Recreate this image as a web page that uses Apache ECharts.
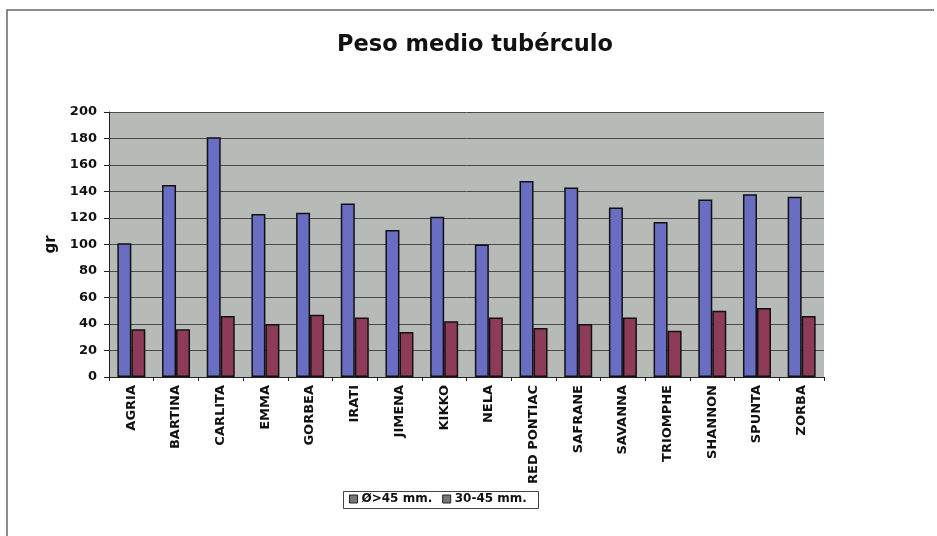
<!DOCTYPE html>
<html>
<head>
<meta charset="utf-8">
<script src="https://cdn.jsdelivr.net/npm/echarts@6/dist/echarts.min.js"></script>
<style>html,body{margin:0;padding:0;background:#fff}#c{width:937px;height:536px}</style>
</head>
<body>
<div id="c"></div>
<script>
const categories = ['AGRIA','BARTINA','CARLITA','EMMA','GORBEA','IRATI','JIMENA','KIKKO','NELA','RED PONTIAC','SAFRANE','SAVANNA','TRIOMPHE','SHANNON','SPUNTA','ZORBA'];
const seriesNames = ['Ø>45 mm.', '30-45 mm.'];
const large = [101, 145, 181, 123, 124, 131, 111, 121, 100, 148, 143, 128, 117, 134, 138, 136];
const medium = [36, 36, 46, 40, 47, 45, 34, 42, 45, 37, 40, 45, 35, 50, 52, 46];
const yTicks = [0, 20, 40, 60, 80, 100, 120, 140, 160, 180, 200];

const FONT = '"DejaVu Sans", sans-serif';
const chart = echarts.init(document.getElementById('c'), null, {renderer: 'canvas'});
chart.setOption({
  animation: false,
  backgroundColor: '#ffffff',
  title: {
    text: 'Peso medio tubérculo',
    left: 332, top: 29,
    textStyle: {fontFamily: FONT, fontWeight: 'bold', fontSize: 22.5, color: '#111'}
  },
  graphic: [
    {type: 'polyline', shape: {points: [[7, 536], [7, 10], [934, 10]]}, style: {stroke: '#666', lineWidth: 1.5, fill: null}, silent: true},
    {type: 'rect', shape: {x: 343.5, y: 491.5, width: 195, height: 17}, style: {stroke: '#444', lineWidth: 1, fill: '#fff'}, z: 0, silent: true}
  ],
  legend: {
    top: 491, left: 344, padding: [2, 5],
    itemWidth: 8, itemHeight: 8, itemGap: 10,
    icon: 'rect',
    data: [
      {name: seriesNames[0], itemStyle: {color: '#777', borderColor: '#222', borderWidth: 1}},
      {name: seriesNames[1], itemStyle: {color: '#777', borderColor: '#222', borderWidth: 1}}
    ],
    textStyle: {fontFamily: FONT, fontWeight: 'bold', fontSize: 12, color: '#111', padding: [0, 0, 0, -1]},
    z: 5
  },
  grid: {left: 109, right: 113, top: 112, bottom: 159, show: true, backgroundColor: '#b7bbb7', borderColor: '#333', borderWidth: 0},
  xAxis: {
    type: 'category',
    data: categories,
    axisLine: {lineStyle: {color: '#222', width: 1}},
    axisTick: {show: true, length: 4, lineStyle: {color: '#222'}},
    axisLabel: {rotate: 90, fontFamily: FONT, fontWeight: 'bold', fontSize: 13, color: '#111', margin: 8, interval: 0}
  },
  yAxis: {
    type: 'value', min: yTicks[0], max: yTicks[yTicks.length - 1], interval: 20,
    name: 'gr', nameLocation: 'middle', nameGap: 40, nameRotate: 90,
    nameTextStyle: {fontFamily: FONT, fontWeight: 'bold', fontSize: 15, color: '#111'},
    axisLine: {show: true, lineStyle: {color: '#222', width: 1}},
    axisTick: {show: true, length: 5, lineStyle: {color: '#222'}},
    axisLabel: {fontFamily: FONT, fontWeight: 'bold', fontSize: 13, color: '#111', margin: 12},
    splitLine: {show: true, lineStyle: {color: '#4a4a4a', width: 1}}
  },
  series: [
    {name: seriesNames[0], type: 'bar', data: large, barWidth: 14, barGap: '0%',
     itemStyle: {color: '#6a6ec2', borderColor: '#111', borderWidth: 1.5}},
    {name: seriesNames[1], type: 'bar', data: medium, barWidth: 14, barGap: '0%',
     itemStyle: {color: '#8e3b59', borderColor: '#111', borderWidth: 1.5}}
  ]
});
</script>
</body>
</html>
